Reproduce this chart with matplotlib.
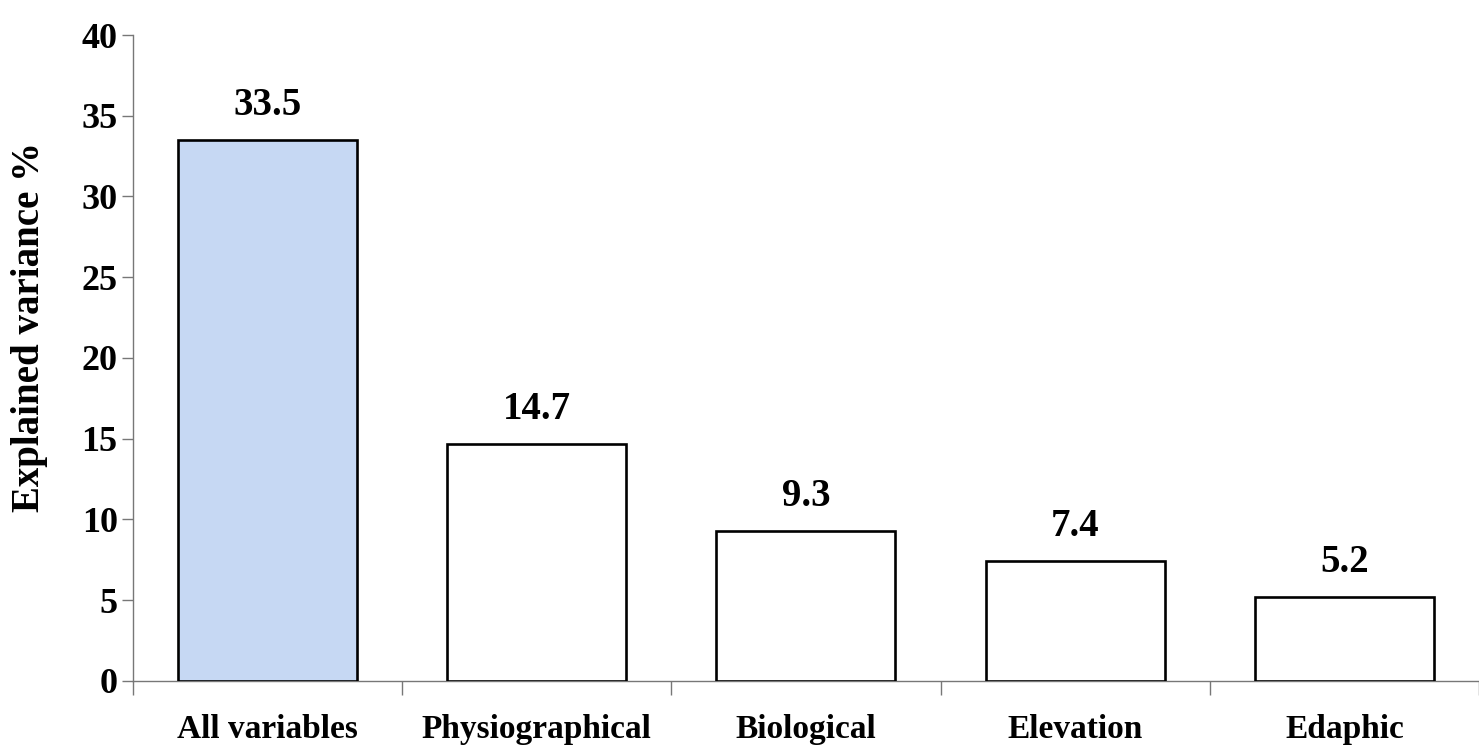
import matplotlib.pyplot as plt

categories = ['All variables', 'Physiographical', 'Biological', 'Elevation', 'Edaphic']
explained = [33.5, 14.7, 9.3, 7.4, 5.2]
y_ticks = [0, 5, 10, 15, 20, 25, 30, 35, 40]

plt.rcParams['font.family'] = ['Liberation Serif', 'DejaVu Serif']
plt.rcParams['font.weight'] = 'bold'

fig = plt.figure(figsize=(14.79, 7.48), dpi=100)
ax = fig.add_axes([0.0899, 0.0896, 0.9101, 0.8636])

colors = ['#c6d8f3'] + ['white'] * (len(categories) - 1)
x = list(range(len(categories)))
ax.bar(x, explained, width=0.665, color=colors, edgecolor='black', linewidth=1.9, zorder=3)

# value labels above each bar
for xi, v in zip(x, explained):
    ax.annotate(f'{v}', (xi, v), xytext=(0, 18), textcoords='offset points',
                ha='center', va='baseline', fontsize=28, fontweight='bold')

ax.set_xlim(-0.5, len(categories) - 0.5)
ax.set_ylim(0, 40)
ax.set_yticks(y_ticks)
ax.set_yticklabels([str(t) for t in y_ticks], fontsize=26, fontweight='bold')
ax.tick_params(axis='y', length=8, width=1, color='#777777', pad=3)

# category names centred, tick marks at category boundaries
ax.set_xticks(x)
ax.set_xticklabels(categories, fontsize=24, fontweight='bold')
ax.tick_params(axis='x', length=0, pad=24)
ax.set_xticks([i - 0.5 for i in range(len(categories) + 1)], minor=True)
ax.tick_params(axis='x', which='minor', length=10, width=1, color='#777777')

ax.set_ylabel('Explained variance %', fontsize=28, fontweight='bold')
ax.yaxis.set_label_coords(-0.063, 0.548)

for side in ['top', 'right']:
    ax.spines[side].set_visible(False)
for side in ['left', 'bottom']:
    ax.spines[side].set_color('#777777')
    ax.spines[side].set_linewidth(1)

fig.savefig('out.png', dpi=100)
